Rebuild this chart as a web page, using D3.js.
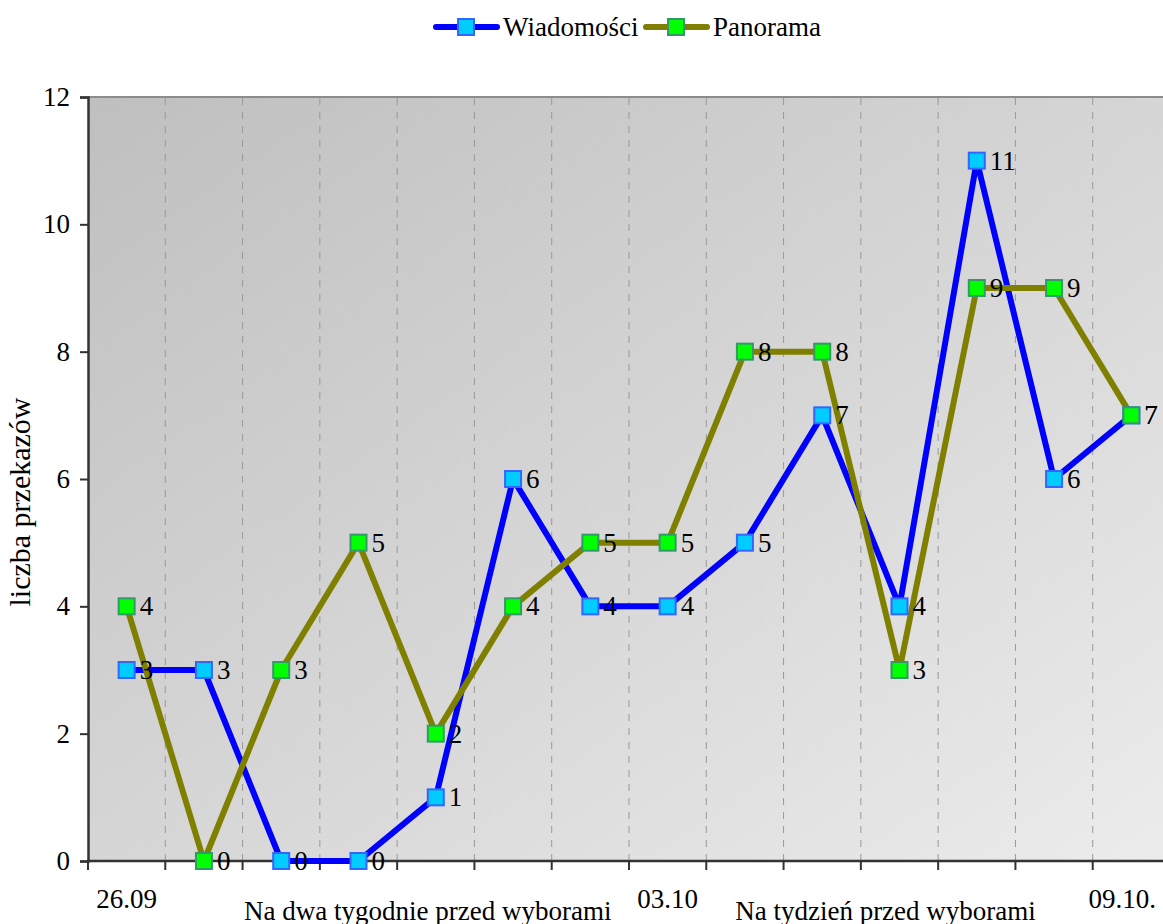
<!DOCTYPE html>
<html><head><meta charset="utf-8">
<script src="https://cdn.jsdelivr.net/npm/d3@7/dist/d3.min.js"></script>
<style>body{margin:0;background:#fff}svg{display:block}svg text{font-family:"Liberation Serif","Times New Roman","DejaVu Serif",serif !important;fill:#000}</style>
</head><body><svg id="c" width="1163" height="924"></svg>
<script>
const categories = [0,1,2,3,4,5,6,7,8,9,10,11,12,13];
const tickLabels = ["26.09","","","","Na dwa tygodnie przed wyborami","","","03.10","","","Na tydzień przed wyborami","","","09.10."];
const wiadomosci = [3,3,0,0,1,6,4,4,5,7,4,11,6,7];
const panorama = [4,0,3,5,2,4,5,5,8,8,3,9,9,7];
const yTicks = [0,2,4,6,8,10,12];
const seriesNames = ["Wiadomości","Panorama"];

const FF = "Liberation Serif, Times New Roman, serif";
const svg = d3.select("#c");
const L = 88, R = 1170, T = 97, B = 861;
const x = d3.scaleBand().domain(categories).range([L, R]).padding(0);
const bw = x.bandwidth();
const cx = i => x(i) + bw / 2;
const y = d3.scaleLinear().domain([0, 12]).range([B, T]);

const defs = svg.append("defs");
const g = defs.append("linearGradient").attr("id","bg").attr("x1","0").attr("y1","0").attr("x2","1").attr("y2","1");
g.append("stop").attr("offset","0").attr("stop-color","#bfbfbf");
g.append("stop").attr("offset","1").attr("stop-color","#ececec");
svg.append("rect").attr("x",L).attr("y",T).attr("width",R-L).attr("height",B-T).attr("fill","url(#bg)");
svg.append("line").attr("x1",L).attr("x2",R).attr("y1",T).attr("y2",T).attr("stroke","#8c8c8c").attr("stroke-width",2);

svg.append("g").selectAll("line").data(categories.slice(1)).join("line")
  .attr("x1",d=>x(d)).attr("x2",d=>x(d)).attr("y1",T+1).attr("y2",B)
  .attr("stroke","#999").attr("stroke-width",1).attr("stroke-dasharray","7,7");

const yAxis = d3.axisLeft(y).tickValues(yTicks).tickSize(8).tickPadding(10);
const ya = svg.append("g").attr("transform",`translate(${L},0)`).call(yAxis)
  .attr("font-family",FF).attr("font-size",27);
ya.select(".domain").attr("stroke","#333").attr("stroke-width",2.5);
ya.selectAll(".tick line").attr("stroke","#333").attr("stroke-width",2);
ya.selectAll(".tick text").attr("fill","#000");

svg.append("line").attr("x1",L-1).attr("x2",R).attr("y1",B).attr("y2",B).attr("stroke","#333").attr("stroke-width",2.5);
svg.append("g").selectAll("line").data(categories).join("line")
  .attr("x1",d=>x(d)).attr("x2",d=>x(d)).attr("y1",B).attr("y2",B+9)
  .attr("stroke","#333").attr("stroke-width",2);

const labelShift = {4:-8, 10:-14, 13:-9};
svg.append("g").attr("font-family",FF).selectAll("text").data(categories.filter(i=>tickLabels[i])).join("text")
  .attr("x",d=>cx(d)+(labelShift[d]||0))
  .attr("y",d=>(d===4||d===10)?920:908)
  .attr("text-anchor","middle").attr("font-size",27)
  .text(d=>tickLabels[d]);

svg.append("text").attr("transform","translate(30,502) rotate(-90)").attr("text-anchor","middle")
  .attr("font-family",FF).attr("font-size",30).text("liczba przekazów");

const line = d3.line().x((d,i)=>cx(i)).y(d=>y(d));
const series = [
  {name:seriesNames[0], data:wiadomosci, color:"#0000ff", fill:"#00ccff", stroke:"#3366ff"},
  {name:seriesNames[1], data:panorama, color:"#808000", fill:"#00ff00", stroke:"#339966"}
];
series.forEach(s=>{
  svg.append("path").datum(s.data).attr("d",line).attr("fill","none")
    .attr("stroke",s.color).attr("stroke-width",6).attr("stroke-linejoin","round");
});
const ms = 16;
series.forEach(s=>{
  svg.append("g").selectAll("rect").data(s.data).join("rect")
    .attr("x",(d,i)=>cx(i)-ms/2).attr("y",d=>y(d)-ms/2).attr("width",ms).attr("height",ms)
    .attr("fill",s.fill).attr("stroke",s.stroke).attr("stroke-width",2);
});
series.forEach(s=>{
  svg.append("g").attr("font-family",FF).selectAll("text").data(s.data).join("text")
    .attr("x",(d,i)=>cx(i)+13).attr("y",d=>y(d)+9)
    .attr("font-size",27).text(d=>d);
});

const lg = svg.append("g").attr("font-family",FF);
const legItems = [{s:series[0], x0:436, tx:503},{s:series[1], x0:646, tx:713}];
legItems.forEach(it=>{
  lg.append("line").attr("x1",it.x0).attr("x2",it.x0+61).attr("y1",27).attr("y2",27)
    .attr("stroke",it.s.color).attr("stroke-width",6).attr("stroke-linecap","round");
  lg.append("rect").attr("x",it.x0+30-ms/2).attr("y",27-ms/2).attr("width",ms).attr("height",ms)
    .attr("fill",it.s.fill).attr("stroke",it.s.stroke).attr("stroke-width",2);
  lg.append("text").attr("x",it.tx).attr("y",36).attr("font-size",27).text(it.s.name);
});
</script></body></html>
